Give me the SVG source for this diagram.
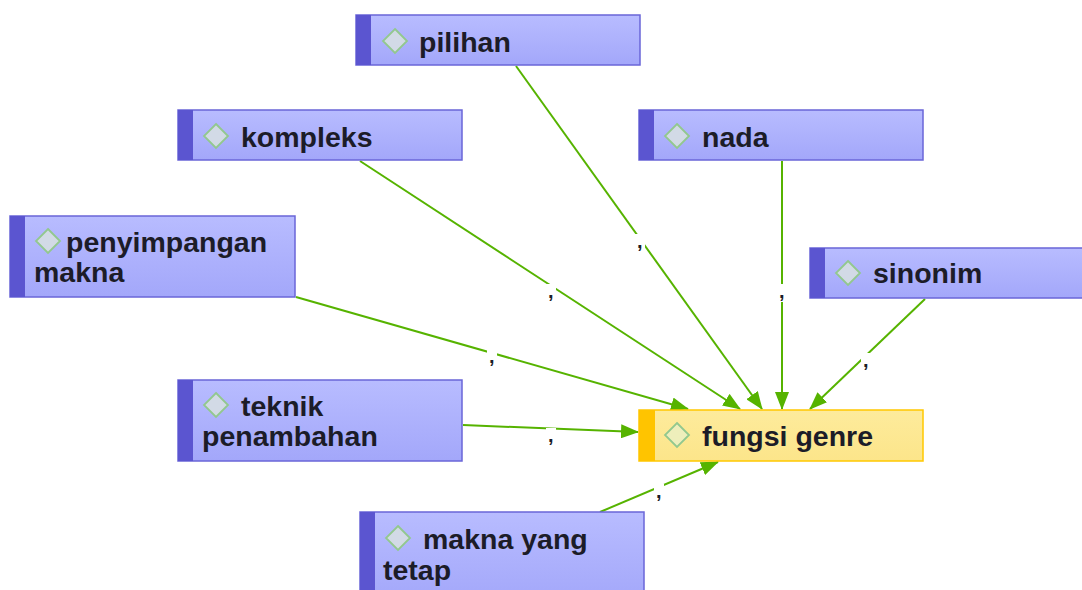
<svg xmlns="http://www.w3.org/2000/svg" width="1082" height="590" viewBox="0 0 1082 590">
<defs>
<linearGradient id="gp" x1="0" y1="0" x2="0" y2="1"><stop offset="0" stop-color="#b8bcff"/><stop offset="1" stop-color="#a3a7fa"/></linearGradient>
<linearGradient id="gy" x1="0" y1="0" x2="0" y2="1"><stop offset="0" stop-color="#fdeb9c"/><stop offset="1" stop-color="#fce58a"/></linearGradient>
<marker id="ah" markerWidth="18" markerHeight="14" refX="17" refY="7" orient="auto" markerUnits="userSpaceOnUse"><path d="M0,0 L18,7 L0,14 Z" fill="#56b300"/></marker>
</defs>
<style>
.n rect.b{fill:url(#gp);stroke:#6a66d8;stroke-width:1.5}
.n rect.s{fill:#5b55d0}
.y rect.b{fill:url(#gy);stroke:#ffc800;stroke-width:1.5}
.y rect.s{fill:#ffc400}
.d{fill:#d2dae6;stroke:#92c88e;stroke-width:1.8}
.y .d{fill:#eeeebb}
text{font-family:"Liberation Sans",Arial,sans-serif;font-size:28.5px;font-weight:bold;fill:#1c1c28}
.e line{stroke:#56b300;stroke-width:2;marker-end:url(#ah)}
.l rect{fill:#fff}
.l text{font-size:20px}
</style>
<g id="edges" class="e">
<line x1="516" y1="66" x2="762" y2="409"/>
<line x1="360" y1="161" x2="740" y2="409"/>
<line x1="782" y1="161" x2="782" y2="409"/>
<line x1="296" y1="297" x2="688" y2="409"/>
<line x1="925" y1="299" x2="810" y2="409"/>
<line x1="463" y1="425" x2="638" y2="432"/>
<line x1="600" y1="512" x2="718" y2="462"/>
</g>
<g id="labels" class="l">
<rect x="635" y="234" width="10" height="18"/><text x="637" y="248">,</text>
<rect x="546" y="284" width="10" height="18"/><text x="548" y="298">,</text>
<rect x="777" y="284" width="10" height="18"/><text x="779" y="298">,</text>
<rect x="487" y="349" width="10" height="18"/><text x="489" y="363">,</text>
<rect x="861" y="353" width="10" height="18"/><text x="863" y="367">,</text>
<rect x="546" y="428" width="10" height="18"/><text x="548" y="442">,</text>
<rect x="654" y="484" width="10" height="18"/><text x="656" y="498">,</text>
</g>
<g id="pilihan" class="n"><rect class="b" x="356" y="15" width="284" height="50"/><rect class="s" x="356" y="15" width="15" height="50"/><path class="d" d="M395,29 L407,41 L395,53 L383,41 Z"/><text x="419" y="52">pilihan</text></g>
<g id="kompleks" class="n"><rect class="b" x="178" y="110" width="284" height="50"/><rect class="s" x="178" y="110" width="15" height="50"/><path class="d" d="M216,124 L228,136 L216,148 L204,136 Z"/><text x="241" y="147">kompleks</text></g>
<g id="nada" class="n"><rect class="b" x="639" y="110" width="284" height="50"/><rect class="s" x="639" y="110" width="15" height="50"/><path class="d" d="M677,124 L689,136 L677,148 L665,136 Z"/><text x="702" y="147">nada</text></g>
<g id="penyimpangan" class="n"><rect class="b" x="10" y="216" width="285" height="81"/><rect class="s" x="10" y="216" width="15" height="81"/><path class="d" d="M48,229 L60,241 L48,253 L36,241 Z"/><text x="66" y="252">penyimpangan</text><text x="34" y="282">makna</text></g>
<g id="sinonim" class="n"><rect class="b" x="810" y="248" width="280" height="50"/><rect class="s" x="810" y="248" width="15" height="50"/><path class="d" d="M848,261 L860,273 L848,285 L836,273 Z"/><text x="873" y="283">sinonim</text></g>
<g id="teknik" class="n"><rect class="b" x="178" y="380" width="284" height="81"/><rect class="s" x="178" y="380" width="15" height="81"/><path class="d" d="M216,393 L228,405 L216,417 L204,405 Z"/><text x="241" y="416">teknik</text><text x="202" y="446">penambahan</text></g>
<g id="fungsi" class="y"><rect class="b" x="639" y="410" width="284" height="51"/><rect class="s" x="639" y="410" width="16" height="51"/><path class="d" d="M677,423 L689,435 L677,447 L665,435 Z"/><text x="702" y="446">fungsi genre</text></g>
<g id="makna" class="n"><rect class="b" x="360" y="512" width="284" height="90"/><rect class="s" x="360" y="512" width="15" height="90"/><path class="d" d="M398,526 L410,538 L398,550 L386,538 Z"/><text x="423" y="549">makna yang</text><text x="383" y="580">tetap</text></g>
</svg>
